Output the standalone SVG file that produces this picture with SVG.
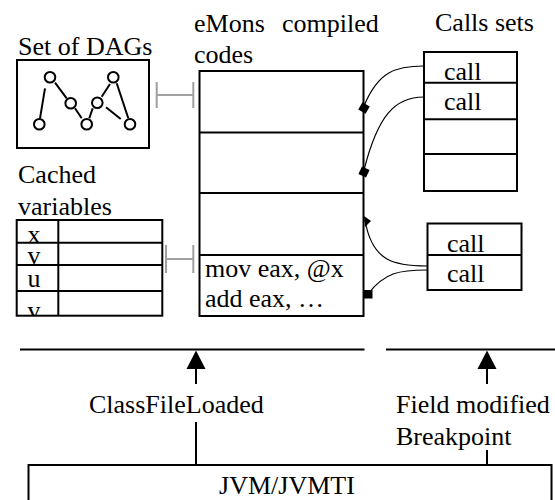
<svg xmlns="http://www.w3.org/2000/svg" width="555" height="500" viewBox="0 0 555 500">
<style>
  text { font-family: "Liberation Serif", Tinos, "Times New Roman", Times, "DejaVu Serif", "Noto Serif", serif; font-size: 26px; fill: #000; }
  .box { fill: none; stroke: #000; stroke-width: 2; }
  .ln { stroke: #000; stroke-width: 2; fill: none; }
  .gray { stroke: #a0a0a0; stroke-width: 2; fill: none; }
  .curve { stroke: #000; stroke-width: 1.2; fill: none; }
  .node { fill: #fff; stroke: #000; stroke-width: 2; }
  .mk { fill: #000; stroke: none; }
</style>
<defs>
  <clipPath id="tblclip"><rect x="16.7" y="220" width="145.6" height="95.7"/></clipPath>
</defs>

<g id="dags">
  <text x="18" y="55">Set of DAGs</text>
  <rect class="box" x="17" y="60" width="132" height="88"/>
  <g class="ln">
    <line x1="45" y1="88.3" x2="40" y2="118.3"/>
    <line x1="55" y1="82.7" x2="66.7" y2="98.3"/>
    <line x1="75" y1="108.3" x2="81.7" y2="118.3"/>
    <line x1="89.3" y1="118.3" x2="92.7" y2="108.3"/>
    <line x1="101.7" y1="96.7" x2="110" y2="84"/>
    <line x1="116.7" y1="83.3" x2="128.3" y2="118.3"/>
    <line x1="106" y1="107.3" x2="120.7" y2="119"/>
  </g>
  <circle class="node" cx="50" cy="77.3" r="5.3"/>
  <circle class="node" cx="39.3" cy="124.3" r="5.3"/>
  <circle class="node" cx="70.7" cy="103.3" r="5.3"/>
  <circle class="node" cx="86.7" cy="124.3" r="5.3"/>
  <circle class="node" cx="97.3" cy="102.7" r="5.3"/>
  <circle class="node" cx="113.3" cy="77.3" r="5.3"/>
  <circle class="node" cx="130" cy="124.3" r="5.3"/>
</g>

<g id="cached">
  <text x="18" y="183">Cached</text>
  <text x="18" y="215">variables</text>
  <g clip-path="url(#tblclip)">
    <text x="34" y="243" text-anchor="middle">x</text>
    <text x="34" y="264" text-anchor="middle">v</text>
    <text x="34" y="287" text-anchor="middle">u</text>
    <text x="34" y="318.5" text-anchor="middle">v</text>
  </g>
  <rect class="box" x="16.7" y="220" width="145.6" height="95.7"/>
  <line class="ln" x1="58.3" y1="220" x2="58.3" y2="315.7"/>
  <line class="ln" x1="16.7" y1="242.7" x2="162.3" y2="242.7"/>
  <line class="ln" x1="16.7" y1="265" x2="162.3" y2="265"/>
  <line class="ln" x1="16.7" y1="291" x2="162.3" y2="291"/>
</g>

<g id="emons">
  <text x="194" y="32">eMons</text>
  <text x="282" y="32">compiled</text>
  <text x="194" y="63">codes</text>
  <rect class="box" x="199.5" y="71" width="164" height="245"/>
  <line class="ln" x1="199.5" y1="132.5" x2="363.5" y2="132.5"/>
  <line class="ln" x1="199.5" y1="193" x2="363.5" y2="193"/>
  <line class="ln" x1="199.5" y1="255" x2="363.5" y2="255"/>
  <text x="205" y="277">mov eax, @x</text>
  <text x="205" y="307">add eax, …</text>
</g>

<g id="calls1">
  <text x="435" y="31">Calls sets</text>
  <rect class="box" x="424" y="52" width="93" height="139"/>
  <line class="ln" x1="424" y1="82.7" x2="517" y2="82.7"/>
  <line class="ln" x1="424" y1="119.3" x2="517" y2="119.3"/>
  <line class="ln" x1="424" y1="154" x2="517" y2="154"/>
  <text x="444" y="80">call</text>
  <text x="444" y="110">call</text>
</g>

<g id="calls2">
  <rect class="box" x="427.5" y="223.5" width="94" height="66.5"/>
  <line class="ln" x1="427.5" y1="255" x2="521.5" y2="255"/>
  <text x="447" y="252">call</text>
  <text x="447" y="282">call</text>
</g>

<g id="bus">
  <line class="ln" x1="20" y1="349.5" x2="364.5" y2="349.5"/>
  <line class="ln" x1="386" y1="349.5" x2="555" y2="349.5"/>
</g>

<g id="events">
  <text x="89" y="413">ClassFileLoaded</text>
  <text x="396" y="413">Field modified</text>
  <text x="396" y="445">Breakpoint</text>
</g>

<g id="jvm">
  <rect class="box" x="28.5" y="465" width="523" height="50"/>
  <text x="287" y="494" text-anchor="middle">JVM/JVMTI</text>
</g>

<g id="connectors">
  <path class="gray" d="M156.7 95 H193.3 M156.7 82 V108 M193.3 82 V108"/>
  <path class="gray" d="M166 259 H193.3 M166 245 V273 M193.3 245 V273"/>
  <path class="curve" d="M424 66 C395 66 378 72 364 106"/>
  <path class="curve" d="M424 97 C395 97 378 115 364 170"/>
  <path class="curve" d="M427 266 C395 266 372 262 365 220"/>
  <path class="curve" d="M427 270 C400 270 385 272 368 294"/>
  <rect class="mk" x="-4.2" y="-4.2" width="8.4" height="8.4" transform="translate(364 108) rotate(30)"/>
  <rect class="mk" x="-4.2" y="-4.2" width="8.4" height="8.4" transform="translate(364 172) rotate(25)"/>
  <polygon class="mk" points="364,216 371,221 365,227"/>
  <rect class="mk" x="364" y="290" width="8.5" height="8.5"/>
  <polygon class="mk" points="196,350.5 186.5,369 205.5,369"/>
  <line class="ln" x1="196" y1="368" x2="196" y2="384"/>
  <polygon class="mk" points="487,350.5 477.5,369 496.5,369"/>
  <line class="ln" x1="487" y1="368" x2="487" y2="384"/>
  <line class="ln" x1="196" y1="422" x2="196" y2="465"/>
  <line class="ln" x1="487" y1="450" x2="487" y2="465"/>
</g>
</svg>
